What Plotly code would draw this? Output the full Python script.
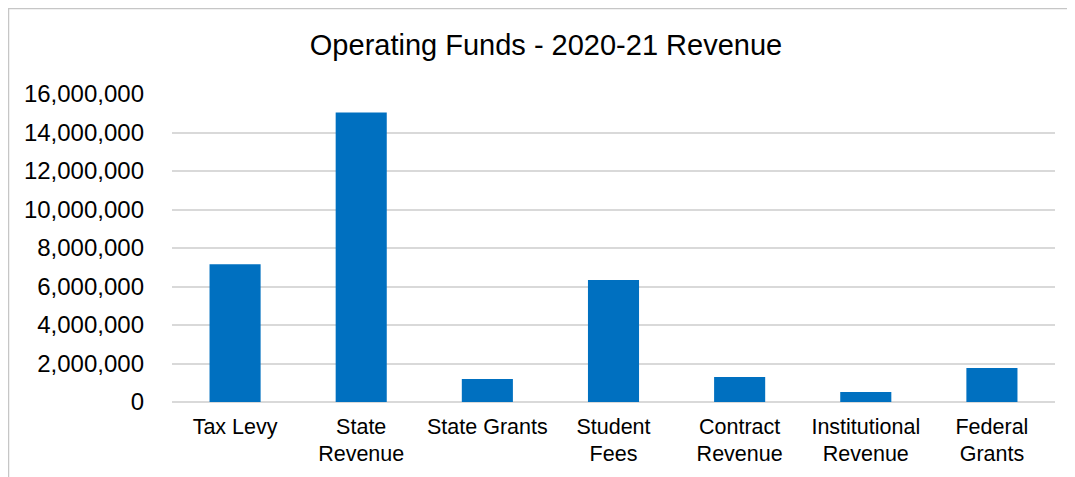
import plotly.graph_objects as go

categories = ["Tax Levy", "State<br>Revenue", "State Grants", "Student<br>Fees",
              "Contract<br>Revenue", "Institutional<br>Revenue", "Federal<br>Grants"]
revenue = [7160000, 15040000, 1200000, 6340000, 1300000, 520000, 1770000]
y_ticks = [0, 2000000, 4000000, 6000000, 8000000, 10000000, 12000000, 14000000, 16000000]
y_tick_text = ["0", "2,000,000", "4,000,000", "6,000,000", "8,000,000",
               "10,000,000", "12,000,000", "14,000,000", "16,000,000"]
title_text = "Operating Funds - 2020-21 Revenue"

OFF = 8  # page body margin
W, H = 1075 - OFF, 477 - OFF
L, R, T, B = 172 - OFF, 20, 94 - OFF, 75
pw, ph = W - L - R, H - T - B

FONT = "Liberation Sans, Arial, sans-serif"

fig = go.Figure(go.Bar(x=categories, y=revenue, marker=dict(color="#0070C0", line=dict(width=0))))

# chart border (paper coordinates derived from pixel margins)
bx0 = (7 - OFF - L) / pw
by1 = (H - B - (7 - OFF)) / ph
fig.add_shape(type="rect", xref="paper", yref="paper",
              x0=(0.5 - L) / pw, x1=(W + 10 - L) / pw, y0=(-B - 10) / ph, y1=(H - B - 0.5) / ph,
              line=dict(color="#C6C6C6", width=1.5), fillcolor="rgba(0,0,0,0)", layer="below")

fig.update_layout(
    width=W, height=H,
    margin=dict(l=L, r=R, t=T, b=B),
    paper_bgcolor="white", plot_bgcolor="white",
    showlegend=False,
    bargap=0.595,
    title=dict(text=title_text, x=(546 - OFF) / W, xanchor="center", xref="container",
               y=1 - (45 - OFF) / H, yanchor="middle", yref="container",
               font=dict(family=FONT, size=29, color="#000000")),
    font=dict(family=FONT, color="#000000"),
)
fig.update_xaxes(showgrid=False, showline=False, ticks="", tickangle=0,
                 tickfont=dict(family=FONT, size=21.5, color="#000000"),
                 ticklabelstandoff=9)
fig.update_yaxes(range=[0, 16000000], tickvals=y_ticks, ticktext=y_tick_text,
                 showgrid=True, gridcolor="#D9D9D9", gridwidth=1.5,
                 zeroline=True, zerolinecolor="#D9D9D9", zerolinewidth=1.5,
                 showline=False, ticks="",
                 tickfont=dict(family=FONT, size=24, color="#000000"),
                 ticklabelstandoff=27)

fig.write_html("out.html")
